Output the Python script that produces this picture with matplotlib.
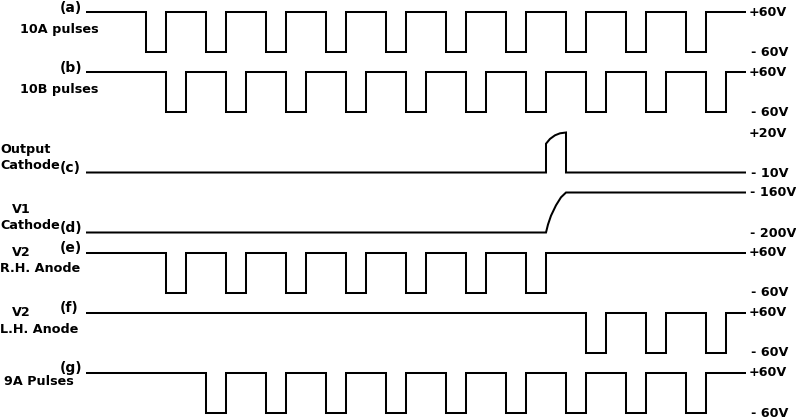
import matplotlib
matplotlib.use("Agg")
import matplotlib.pyplot as plt

# time in grid steps, levels: 1 = top of trace, 0 = bottom of trace
T_END = 33
falls_a = [3, 6, 9, 12, 15, 18, 21, 24, 27, 30]
falls_b = [4, 7, 10, 13, 16, 19, 22, 25, 28, 31]
falls_e = [4, 7, 10, 13, 16, 19, 22]
falls_f = [25, 28, 31]
falls_g = [6, 9, 12, 15, 18, 21, 24, 27, 30]

# output cathode pulse
c_t = [0, 23, 23, 23.2, 23.45, 23.7, 24, 24, 33]
c_level = [0, 0, 0.72, 0.84, 0.93, 0.98, 1, 0, 0]

# V1 cathode rise
d_t = [0, 23, 23.1, 23.25, 23.5, 23.75, 24, 33]
d_level = [0, 0, 0.2, 0.42, 0.68, 0.88, 1, 1]

letter_labels = [
    ("(a)", 60, 8), ("(b)", 60, 68), ("(c)", 60, 168), ("(d)", 60, 228),
    ("(e)", 60, 248), ("(f)", 60, 308), ("(g)", 60, 368),
]
side_labels = [
    ("10A pulses", 20, 29), ("10B pulses", 20, 89),
    ("Output", 0, 149), ("Cathode", 0, 165),
    ("V1", 12, 209), ("Cathode", 0, 225),
    ("V2", 12, 253), ("R.H. Anode", 0, 269),
    ("V2", 12, 313), ("L.H. Anode", 0, 329),
    ("9A Pulses", 4, 381),
]
volt_labels = [
    ("+60V", 749, 12), ("- 60V", 751, 52.5),
    ("+60V", 749, 72), ("- 60V", 751, 113),
    ("+20V", 749, 133), ("- 10V", 751, 173),
    ("- 160V", 750, 192.5), ("- 200V", 750, 233),
    ("+60V", 749, 252.5), ("- 60V", 751, 293),
    ("+60V", 749, 312.5), ("- 60V", 751, 353),
    ("+60V", 749, 372.5), ("- 60V", 751, 413),
]


def pulse_train(falls):
    t = [0]
    level = [1]
    for f in falls:
        t += [f, f, f + 1, f + 1]
        level += [1, 0, 0, 1]
    t.append(T_END)
    level.append(1)
    return t, level


W, H = 796, 419
fig = plt.figure(figsize=(W / 100, H / 100), dpi=100)

# one thin axes per trace, each 40 px tall, top edge at the +60V line
traces = [
    (12.5, pulse_train(falls_a)),
    (72.5, pulse_train(falls_b)),
    (132.5, (c_t, c_level)),
    (192.5, (d_t, d_level)),
    (252.5, pulse_train(falls_e)),
    (312.5, pulse_train(falls_f)),
    (372.5, pulse_train(falls_g)),
]
for top, (t, level) in traces:
    ax = fig.add_axes([86 / W, 1 - (top + 40) / H, 660 / W, 40 / H])
    ax.plot(t, level, color="black", lw=1.45, solid_joinstyle="miter",
            solid_capstyle="butt", clip_on=False)
    ax.set_xlim(0, T_END)
    ax.set_ylim(0, 1)
    ax.axis("off")

for s, x, y in side_labels + volt_labels:
    fig.text(x / W, 1 - y / H, s, fontsize=9.2, fontweight="bold", color="black",
             ha="left", va="center", family="DejaVu Sans")
for s, x, y in letter_labels:
    fig.text(x / W, 1 - y / H, s, fontsize=10, fontweight="bold", color="black",
             ha="left", va="center", family="DejaVu Sans")

fig.savefig("out.png", dpi=100)
